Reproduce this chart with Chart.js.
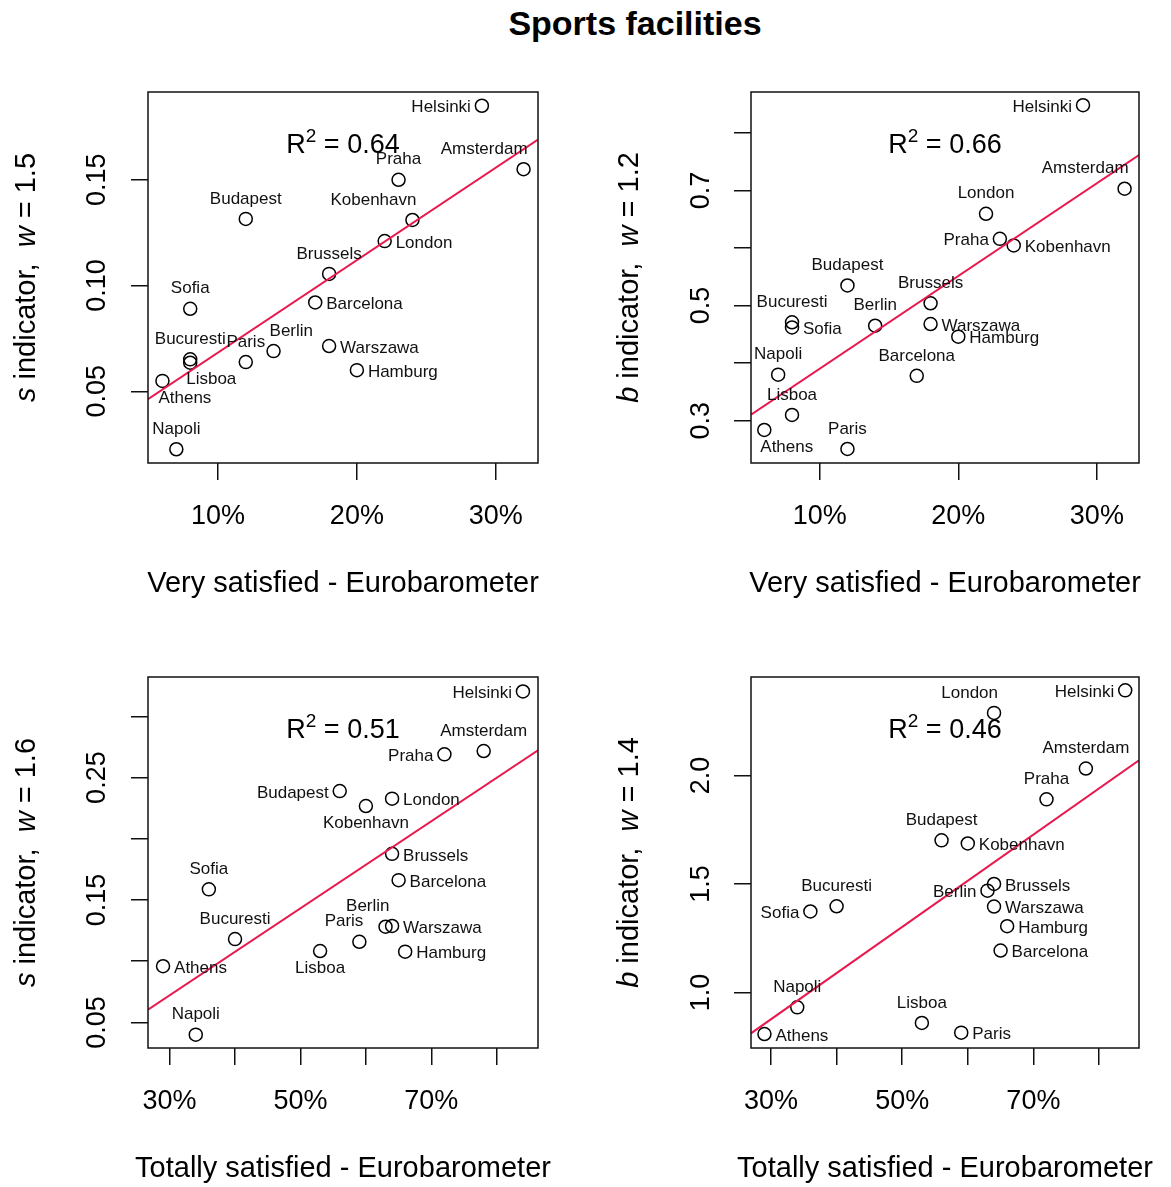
<!DOCTYPE html>
<html>
<head>
<meta charset="utf-8">
<title>Sports facilities</title>
<script src="https://cdn.jsdelivr.net/npm/chart.js@4.4.1/dist/chart.umd.min.js"></script>
<style>
  body { margin: 0; background: #fff; }
  #marco { position: relative; width: 1171px; height: 1187px; overflow: hidden; }
  #titulo {
    position: absolute; left: 385px; top: 4px; width: 500px; height: 40px;
    line-height: 40px; text-align: center; color: #000;
    font: bold 34px "Liberation Sans", Arial, sans-serif;
  }
  canvas { position: absolute; }
</style>
</head>
<body>
<div id="marco">
  <div id="titulo">Sports facilities</div>
  <canvas id="g1" width="585" height="553" style="left:0px;top:50px"></canvas>
  <canvas id="g2" width="586" height="553" style="left:585px;top:50px"></canvas>
  <canvas id="g3" width="585" height="552" style="left:0px;top:635px"></canvas>
  <canvas id="g4" width="586" height="552" style="left:585px;top:635px"></canvas>
</div>
<script>
const FUENTE = '"Liberation Sans", Arial, sans-serif';

// datos
const ciudades = ['Helsinki', 'Amsterdam', 'Praha', 'Kobenhavn', 'London', 'Budapest', 'Brussels',
  'Barcelona', 'Sofia', 'Berlin', 'Warszawa', 'Paris', 'Bucuresti', 'Lisboa', 'Hamburg', 'Athens', 'Napoli'];

// % muy satisfechos / totalmente satisfechos (Eurobarometro)
const muySatisfechos = [29, 32, 23, 24, 22, 12, 18, 17, 8, 14, 18, 12, 8, 8, 20, 6, 7];
const totalSatisfechos = [84, 78, 72, 60, 64, 56, 64, 65, 36, 63, 64, 59, 40, 53, 66, 29, 34];

// indicadores
const indicadorS15 = [0.185, 0.155, 0.150, 0.131, 0.121, 0.1315, 0.1055, 0.092, 0.089, 0.069, 0.0714,
  0.0638, 0.0651, 0.0635, 0.060, 0.0549, 0.0226];
const indicadorB12 = [0.848, 0.703, 0.616, 0.6045, 0.6595, 0.535, 0.504, 0.378, 0.462, 0.465, 0.468,
  0.251, 0.471, 0.310, 0.446, 0.284, 0.380];
const indicadorS16 = [0.3204, 0.2717, 0.269, 0.2268, 0.2328, 0.239, 0.1877, 0.1662, 0.1587, 0.1282, 0.1288,
  0.1159, 0.1181, 0.1083, 0.1078, 0.0959, 0.040];
const indicadorB14 = [2.3925, 2.032, 1.89, 1.6865, 2.2885, 1.701, 1.5, 1.193, 1.373, 1.469, 1.396,
  0.8145, 1.397, 0.859, 1.305, 0.808, 0.931];

// rectas de regresion [intercepto, pendiente]
const ajuste1 = [0.0246, 0.00437];
const ajuste2 = [0.2294, 0.016104];
const ajuste3 = [-0.0345, 0.003555];
const ajuste4 = [0.2378, 0.02128];
const r2 = ['0.64', '0.66', '0.51', '0.46'];

// ticks
const xTicksMuy = [10, 20, 30];
const xEtiquetasMuy = ['10%', '20%', '30%'];
const xTicksTotal = [30, 40, 50, 60, 70, 80];
const xEtiquetasTotal = ['30%', '', '50%', '', '70%', ''];
const yTicks1 = [0.05, 0.10, 0.15];
const yEtiquetas1 = ['0.05', '0.10', '0.15'];
const yTicks2 = [0.3, 0.4, 0.5, 0.6, 0.7, 0.8];
const yEtiquetas2 = ['0.3', '', '0.5', '', '0.7', ''];
const yTicks3 = [0.05, 0.10, 0.15, 0.20, 0.25, 0.30];
const yEtiquetas3 = ['0.05', '', '0.15', '', '0.25', ''];
const yTicks4 = [1.0, 1.5, 2.0];
const yEtiquetas4 = ['1.0', '1.5', '2.0'];

// lado de cada etiqueta (t arriba, b abajo, l izq, r der; < y > alinean el texto)
const lados1 = ['l', 't<', 't', 't<', 'r', 't', 't', 'r', 't', 't>', 'r', 't', 't', 'b>', 'r', 'b>', 't'];
const lados2 = ['l', 't<', 'l', 'r', 't', 't', 't', 't', 'r', 't', 'r', 't', 't', 't', 'r', 'b>', 't'];
const lados3 = ['l', 't', 'l', 'b', 'r', 'l', 'r', 'r', 't', 't<', 'r', 't<', 't', 'b', 'r', 'r', 't'];
const lados4 = ['l', 't', 't', 'r', 't<', 't', 'r', 'r', 'l', 'l', 'r', 'r', 't', 't', 'r', 'r', 't'];

const paneles = [
  { id: 'g1', x: muySatisfechos, y: indicadorS15, ajuste: ajuste1, r2: r2[0], lados: lados1,
    xr: [4.96, 33.04], yr: [0.0161, 0.1915], xt: xTicksMuy, xe: xEtiquetasMuy, yt: yTicks1, ye: yEtiquetas1,
    letra: 's', w: '1.5', xtitulo: 'Very satisfied - Eurobarometer', ancho: 148, der: 47, alto: 140 },
  { id: 'g2', x: muySatisfechos, y: indicadorB12, ajuste: ajuste2, r2: r2[1], lados: lados2,
    xr: [5.04, 33.04], yr: [0.2266, 0.871], xt: xTicksMuy, xe: xEtiquetasMuy, yt: yTicks2, ye: yEtiquetas2,
    letra: 'b', w: '1.2', xtitulo: 'Very satisfied - Eurobarometer', ancho: 166, der: 32, alto: 140 },
  { id: 'g3', x: totalSatisfechos, y: indicadorS16, ajuste: ajuste3, r2: r2[2], lados: lados3,
    xr: [26.7, 86.3], yr: [0.0291, 0.3322], xt: xTicksTotal, xe: xEtiquetasTotal, yt: yTicks3, ye: yEtiquetas3,
    letra: 's', w: '1.6', xtitulo: 'Totally satisfied - Eurobarometer', ancho: 148, der: 47, alto: 139 },
  { id: 'g4', x: totalSatisfechos, y: indicadorB14, ajuste: ajuste4, r2: r2[3], lados: lados4,
    xr: [26.95, 86.1], yr: [0.7437, 2.454], xt: xTicksTotal, xe: xEtiquetasTotal, yt: yTicks4, ye: yEtiquetas4,
    letra: 'b', w: '1.4', xtitulo: 'Totally satisfied - Eurobarometer', ancho: 166, der: 32, alto: 139 }
];

Chart.defaults.font.family = FUENTE;
Chart.defaults.color = '#000';

function crearPlugin(p) {
  return {
    id: 'extras',
    afterDatasetsDraw(chart) {
      const ctx = chart.ctx;
      const { left, top, right, bottom } = chart.chartArea;
      const sx = chart.scales.x, sy = chart.scales.y;
      ctx.save();
      // caja
      ctx.strokeStyle = '#111';
      ctx.lineWidth = 1.5;
      ctx.strokeRect(left, top, right - left, bottom - top);

      // nombres de ciudades
      ctx.font = '17px ' + FUENTE;
      ctx.fillStyle = '#111';
      ctx.textBaseline = 'middle';
      ciudades.forEach((nombre, i) => {
        const px = sx.getPixelForValue(p.x[i]);
        const py = sy.getPixelForValue(p.y[i]);
        const lado = p.lados[i];
        let tx = px, ty = py, alin = 'center';
        if (lado[0] === 't') ty = py - 20;
        else if (lado[0] === 'b') ty = py + 17;
        else if (lado[0] === 'l') { tx = px - 11; alin = 'right'; ty = py + 2; }
        else if (lado[0] === 'r') { tx = px + 11; alin = 'left'; ty = py + 2; }
        if (lado[1] === '<') { tx = px + 4; alin = 'right'; }
        if (lado[1] === '>') { tx = px - 4; alin = 'left'; }
        ctx.textAlign = alin;
        ctx.fillText(nombre, tx, ty);
      });

      // R^2
      const f = 27;
      const resto = ' = ' + p.r2;
      ctx.textBaseline = 'alphabetic';
      ctx.textAlign = 'left';
      ctx.font = f + 'px ' + FUENTE;
      const wR = ctx.measureText('R').width;
      const wResto = ctx.measureText(resto).width;
      ctx.font = Math.round(f * 0.7) + 'px ' + FUENTE;
      const w2 = ctx.measureText('2').width;
      const x0 = (left + right) / 2 - (wR + w2 + wResto) / 2;
      const base = top + 61;
      ctx.fillStyle = '#000';
      ctx.font = f + 'px ' + FUENTE;
      ctx.fillText('R', x0, base);
      ctx.fillText(resto, x0 + wR + w2, base);
      ctx.font = Math.round(f * 0.7) + 'px ' + FUENTE;
      ctx.fillText('2', x0 + wR, base - 11);

      // titulo eje x (sin comprimir)
      ctx.font = '29px ' + FUENTE;
      ctx.textAlign = 'center';
      ctx.textBaseline = 'middle';
      ctx.fillText(p.xtitulo, (left + right) / 2, bottom + 121);

      // titulo eje y con cursivas
      const trozos = [[p.letra, true], [' indicator,  ', false], ['w', true], [' = ' + p.w, false]];
      const fuenteTrozo = (it) => (it ? 'italic ' : '') + '29px ' + FUENTE;
      let total = 0;
      trozos.forEach(([t, it]) => { ctx.font = fuenteTrozo(it); total += ctx.measureText(t).width; });
      ctx.translate(left - 121, (top + bottom) / 2);
      ctx.rotate(-Math.PI / 2);
      ctx.textAlign = 'left';
      let pos = -total / 2;
      trozos.forEach(([t, it]) => {
        ctx.font = fuenteTrozo(it);
        ctx.fillText(t, pos, 0);
        pos += ctx.measureText(t).width;
      });
      ctx.restore();
    }
  };
}

function dibujarPanel(p) {
  const puntos = p.x.map((v, i) => ({ x: v, y: p.y[i] }));
  const recta = p.xr.map(v => ({ x: v, y: p.ajuste[0] + p.ajuste[1] * v }));
  const anchoEtiqueta = p.ye[0].length > 3 ? 52 : 38;
  new Chart(document.getElementById(p.id), {
    type: 'scatter',
    data: {
      datasets: [
        {
          data: recta, type: 'line', showLine: true, borderColor: '#e8194f', borderWidth: 2,
          pointRadius: 0, fill: false, order: 0
        },
        {
          data: puntos, pointRadius: 6.5, pointBorderWidth: 1.5, pointBorderColor: '#000',
          pointBackgroundColor: 'rgba(0,0,0,0)', order: 1
        }
      ]
    },
    options: {
      responsive: false,
      animation: false,
      devicePixelRatio: 1,
      events: [],
      layout: { padding: { top: 42, right: p.der, left: 0, bottom: 0 } },
      plugins: { legend: { display: false }, tooltip: { enabled: false } },
      scales: {
        x: {
          type: 'linear', position: 'bottom', min: p.xr[0], max: p.xr[1],
          afterBuildTicks: s => { s.ticks = p.xt.map(v => ({ value: v })); },
          afterFit: s => { s.height = p.alto; },
          ticks: {
            callback: (v, i) => p.xe[i], autoSkip: false, maxRotation: 0,
            font: { size: 27 }, color: '#000', padding: 20
          },
          grid: { drawOnChartArea: false, drawTicks: true, tickLength: 17, color: '#111', lineWidth: 1.5 },
          border: { display: false },
          title: { display: false }
        },
        y: {
          type: 'linear', position: 'left', min: p.yr[0], max: p.yr[1],
          afterBuildTicks: s => { s.ticks = p.yt.map(v => ({ value: v })); },
          afterFit: s => { s.width = p.ancho; },
          ticks: {
            callback: (v, i) => p.ye[i], autoSkip: false, minRotation: 90, maxRotation: 90,
            crossAlign: 'center', font: { size: 27 }, color: '#000',
            padding: 50 - 17 - anchoEtiqueta / 2
          },
          grid: { drawOnChartArea: false, drawTicks: true, tickLength: 17, color: '#111', lineWidth: 1.5 },
          border: { display: false }
        }
      }
    },
    plugins: [crearPlugin(p)]
  });
}

paneles.forEach(dibujarPanel);
</script>
</body>
</html>
